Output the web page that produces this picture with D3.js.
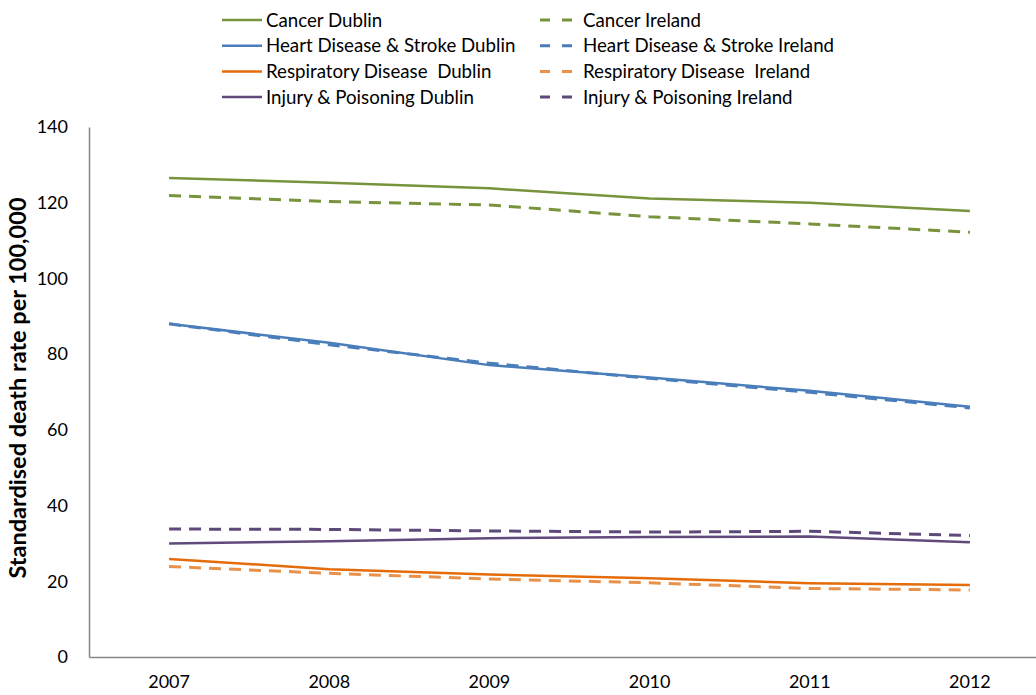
<!DOCTYPE html>
<html>
<head>
<meta charset="utf-8">
<script src="https://cdn.jsdelivr.net/npm/d3@7"></script>
<style>
  body { margin: 0; background: #fff; }
  text { font-family: Lato, "Open Sans", sans-serif; }
</style>
</head>
<body>
<div class="chart"></div>
<script>
// data
var years = ["2007", "2008", "2009", "2010", "2011", "2012"];

var cancerDublin = [126.5, 125.3, 123.8, 121.1, 120.0, 117.8];
var cancerIreland = [121.9, 120.3, 119.4, 116.3, 114.4, 112.2];
var heartDublin = [88.0, 83.0, 77.1, 73.8, 70.3, 66.1];
var heartIreland = [88.0, 82.5, 77.6, 73.6, 69.9, 65.8];
var respDublin = [25.9, 23.2, 21.8, 20.8, 19.5, 19.0];
var respIreland = [23.9, 22.1, 20.6, 19.6, 18.1, 17.7];
var injuryDublin = [30.0, 30.6, 31.4, 31.7, 31.8, 30.3];
var injuryIreland = [33.8, 33.7, 33.3, 33.0, 33.2, 32.1];

var yTicks = [0, 20, 40, 60, 80, 100, 120, 140];

var series = [
  { name: "Cancer Dublin", values: cancerDublin, color: "#77933c", dash: false },
  { name: "Heart Disease & Stroke Dublin", values: heartDublin, color: "#4a7ebb", dash: false },
  { name: "Respiratory Disease  Dublin", values: respDublin, color: "#e46c0a", dash: false },
  { name: "Injury & Poisoning Dublin", values: injuryDublin, color: "#604a7b", dash: false },
  { name: "Cancer Ireland", values: cancerIreland, color: "#77933c", dash: true },
  { name: "Heart Disease & Stroke Ireland", values: heartIreland, color: "#4a7ebb", dash: true },
  { name: "Respiratory Disease  Ireland", values: respIreland, color: "#e8914a", dash: true },
  { name: "Injury & Poisoning Ireland", values: injuryIreland, color: "#5f497a", dash: true }
];

var svgWidth = 1036;
var svgHeight = 695;

var svg = d3.select(".chart")
  .append("svg")
  .attr("width", svgWidth)
  .attr("height", svgHeight);

// plot area
var plotLeft = 89, plotRight = 1050, plotTop = 127, plotBottom = 657;

var x = d3.scaleBand()
  .domain(years)
  .range([plotLeft, plotRight]);

var y = d3.scaleLinear()
  .domain([0, 140])
  .range([plotBottom, plotTop]);

// axes
var xAxis = svg.append("g")
  .attr("transform", `translate(0, ${plotBottom})`)
  .call(d3.axisBottom(x).tickSize(0).tickPadding(18));
xAxis.select(".domain").attr("stroke", "#868686").attr("stroke-width", 1.5);
xAxis.selectAll("text")
  .style("font-size", "18px")
  .attr("fill", "#000");

var yAxis = svg.append("g")
  .attr("transform", `translate(${plotLeft}, 0)`)
  .call(d3.axisLeft(y).tickValues(yTicks).tickSize(0).tickPadding(21));
yAxis.select(".domain").attr("stroke", "#868686").attr("stroke-width", 1.5);
yAxis.selectAll("text")
  .style("font-size", "18px")
  .attr("fill", "#000");

// axis title
svg.append("text")
  .attr("transform", "rotate(-90)")
  .attr("x", -388)
  .attr("y", 26)
  .attr("text-anchor", "middle")
  .style("font-size", "23.5px")
  .style("font-weight", "bold")
  .text("Standardised death rate per 100,000");

// lines
var line = d3.line()
  .x((d, i) => x(years[i]) + x.bandwidth() / 2)
  .y(d => y(d));

svg.selectAll("path.series")
  .data(series)
  .enter()
  .append("path")
  .attr("class", "series")
  .attr("d", d => line(d.values))
  .attr("fill", "none")
  .attr("stroke", d => d.color)
  .attr("stroke-width", d => d.dash ? 3 : 2.5)
  .attr("stroke-dasharray", d => d.dash ? "12,8" : null);

// legend, two columns of four
var legend = svg.selectAll("g.legend")
  .data(series)
  .enter()
  .append("g")
  .attr("class", "legend")
  .attr("transform", (d, i) => `translate(${i < 4 ? 222 : 540}, ${20 + (i % 4) * 25.7})`);

legend.append("line")
  .attr("x1", 0)
  .attr("x2", d => d.dash ? 32 : 40)
  .attr("y1", 0)
  .attr("y2", 0)
  .attr("stroke", d => d.color)
  .attr("stroke-width", d => d.dash ? 3 : 2.5)
  .attr("stroke-dasharray", d => d.dash ? "10,12" : null);

legend.append("text")
  .attr("x", d => d.dash ? 43 : 44)
  .attr("y", 0)
  .attr("dy", "0.35em")
  .style("font-size", "18.7px")
  .style("white-space", "pre")
  .text(d => d.name);
</script>
</body>
</html>
